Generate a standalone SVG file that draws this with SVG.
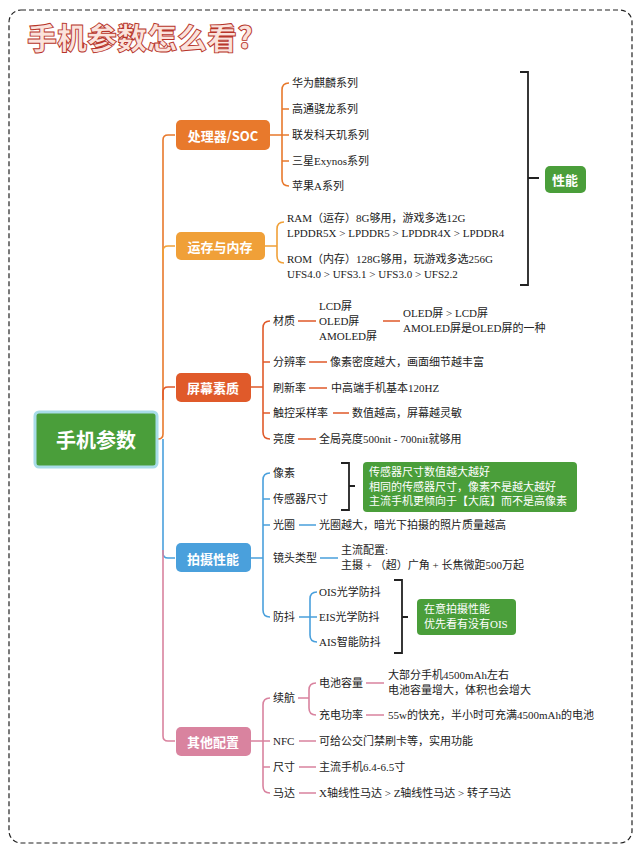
<svg xmlns="http://www.w3.org/2000/svg" width="640" height="853" viewBox="0 0 640 853">
<style>
.t{font-family:"Liberation Serif","Noto Sans CJK SC",serif;font-size:11px;fill:#222;dominant-baseline:central}
.b{font-family:"Noto Sans CJK SC",sans-serif;font-size:13px;font-weight:bold;fill:#fff;text-anchor:middle;dominant-baseline:central}
.w{font-family:"Liberation Serif","Noto Sans CJK SC",serif;font-size:11px;fill:#fff;dominant-baseline:central}
.c{fill:none;stroke-width:1.6}
.o{stroke:#e8792c}.y{stroke:#f0a038}.r{stroke:#e05a2a}.bl{stroke:#4aa0dc}.p{stroke:#d9839f}.k{stroke:#222;stroke-width:1.8}
</style>
<rect x="9" y="10" width="623" height="833" rx="12" fill="#fff" stroke="#222" stroke-width="1.2" stroke-dasharray="5,3"/>
<text x="27" y="49" font-family="Noto Sans CJK SC,sans-serif" font-size="30" font-weight="900" fill="#fbe3dc" stroke="#b8352a" stroke-width="0.9">手机参数怎么看?</text>
<g id="connectors">
<path class="c o" d="M156 439H158Q163 439 163 434V140Q163 135 168 135H175"/>
<path class="c y" d="M163 260V251Q163 246 168 246H175"/>
<path class="c r" d="M163 400V392Q163 387 168 387H175"/>
<path class="c bl" d="M163 439V553Q163 558 168 558H175"/>
<path class="c p" d="M163 550V736Q163 741 168 741H175"/>
<path class="c o" d="M270 135H282M289 83Q282 83 282 90V179Q282 186 289 186M282 109H289M282 161H289M282 135H289"/>
<path class="c y" d="M265 246H277M284 222Q277 222 277 229V256Q277 263 284 263M277 246V246"/>
<path class="c k" d="M520 72H528V285H520M528 178H539"/>
<path class="c r" d="M251 387H263M270 321Q263 321 263 328V432Q263 439 270 439M263 362H270M263 413H270M298 321H316M383 321H400M309 362H327M309 388H327M333 413H349M298 439H316"/>
<path class="c bl" d="M251 558H263M270 473Q263 473 263 480V610Q263 617 270 617M263 499H270M263 525H270M299 525H316M320 558H338M299 617H310M317 592Q310 592 310 599V635Q310 642 317 642M310 617H317"/>
<path class="c k" d="M341 463H349V510H341M349 486H355M394 580H402V653H394M402 617H408"/>
<path class="c p" d="M251 741H263M270 698Q263 698 263 705V786Q263 793 270 793M263 741H270M263 767H270M298 698H309M316 683Q309 683 309 690V708Q309 715 316 715M366 683H384M366 715H384M299 741H316M299 767H316M299 793H316"/>
</g>
<g id="root"><rect x="35" y="412" width="122" height="55" rx="4" fill="#4a9e3a" stroke="#a8dce8" stroke-width="3"/><text class="b" x="96" y="439" style="font-size:20px">手机参数</text></g>
<g id="soc"><rect x="176" y="120" width="94" height="30" rx="5" fill="#e8792c"/><text class="b" x="223" y="135">处理器/SOC</text></g>
<g id="mem"><rect x="176" y="232" width="89" height="28" rx="5" fill="#f0a038"/><text class="b" x="220" y="246">运存与内存</text></g>
<g id="screen"><rect x="176" y="373" width="75" height="29" rx="5" fill="#e05a2a"/><text class="b" x="213" y="387">屏幕素质</text></g>
<g id="camera"><rect x="176" y="543" width="75" height="29" rx="5" fill="#4aa0dc"/><text class="b" x="213" y="558">拍摄性能</text></g>
<g id="other"><rect x="176" y="727" width="75" height="29" rx="5" fill="#d9839f"/><text class="b" x="213" y="741">其他配置</text></g>
<g id="perf"><rect x="545" y="166" width="41" height="27" rx="5" fill="#4a9e3a"/><text class="b" x="565" y="179">性能</text></g>
<g id="soc-items">
<text class="t" x="292" y="83">华为麒麟系列</text><text class="t" x="292" y="109">高通骁龙系列</text><text class="t" x="292" y="135">联发科天玑系列</text><text class="t" x="292" y="161">三星Exynos系列</text><text class="t" x="292" y="186">苹果A系列</text>
</g>
<g id="mem-items">
<text class="t" x="287" y="218">RAM（运存）8G够用，游戏多选12G</text><text class="t" x="287" y="233">LPDDR5X &gt; LPDDR5 &gt; LPDDR4X &gt; LPDDR4</text>
<text class="t" x="287" y="259">ROM（内存）128G够用，玩游戏多选256G</text><text class="t" x="287" y="274">UFS4.0 &gt; UFS3.1 &gt; UFS3.0 &gt; UFS2.2</text>
</g>
<g id="screen-items">
<text class="t" x="273" y="321">材质</text><text class="t" x="319" y="306">LCD屏</text><text class="t" x="319" y="321">OLED屏</text><text class="t" x="319" y="336">AMOLED屏</text>
<text class="t" x="403" y="313">OLED屏 &gt; LCD屏</text><text class="t" x="403" y="328">AMOLED屏是OLED屏的一种</text>
<text class="t" x="273" y="362">分辨率</text><text class="t" x="330" y="362">像素密度越大，画面细节越丰富</text>
<text class="t" x="273" y="388">刷新率</text><text class="t" x="331" y="388">中高端手机基本120HZ</text>
<text class="t" x="273" y="413">触控采样率</text><text class="t" x="352" y="413">数值越高，屏幕越灵敏</text>
<text class="t" x="273" y="439">亮度</text><text class="t" x="319" y="439">全局亮度500nit - 700nit就够用</text>
</g>
<g id="camera-items">
<text class="t" x="273" y="473">像素</text><text class="t" x="273" y="499">传感器尺寸</text>
<rect x="363" y="462" width="214" height="50" rx="4" fill="#4a9e3a"/>
<text class="w" x="369" y="472">传感器尺寸数值越大越好</text><text class="w" x="369" y="487">相同的传感器尺寸，像素不是越大越好</text><text class="w" x="369" y="501">主流手机更倾向于【大底】而不是高像素</text>
<text class="t" x="273" y="525">光圈</text><text class="t" x="319" y="525">光圈越大，暗光下拍摄的照片质量越高</text>
<text class="t" x="273" y="558">镜头类型</text><text class="t" x="341" y="550">主流配置:</text><text class="t" x="341" y="565">主摄 + （超）广角 + 长焦微距500万起</text>
<text class="t" x="273" y="617">防抖</text><text class="t" x="319" y="592">OIS光学防抖</text><text class="t" x="319" y="617">EIS光学防抖</text><text class="t" x="319" y="642">AIS智能防抖</text>
<rect x="417" y="599" width="99" height="36" rx="4" fill="#4a9e3a"/>
<text class="w" x="424" y="609">在意拍摄性能</text><text class="w" x="424" y="624">优先看有没有OIS</text>
</g>
<g id="other-items">
<text class="t" x="273" y="698">续航</text><text class="t" x="319" y="683">电池容量</text><text class="t" x="319" y="715">充电功率</text>
<text class="t" x="388" y="675">大部分手机4500mAh左右</text><text class="t" x="388" y="690">电池容量增大，体积也会增大</text>
<text class="t" x="388" y="715">55w的快充，半小时可充满4500mAh的电池</text>
<text class="t" x="273" y="741">NFC</text><text class="t" x="319" y="741">可给公交门禁刷卡等，实用功能</text>
<text class="t" x="273" y="767">尺寸</text><text class="t" x="319" y="767">主流手机6.4-6.5寸</text>
<text class="t" x="273" y="793">马达</text><text class="t" x="319" y="793">X轴线性马达 &gt; Z轴线性马达 &gt; 转子马达</text>
</g>
</svg>
